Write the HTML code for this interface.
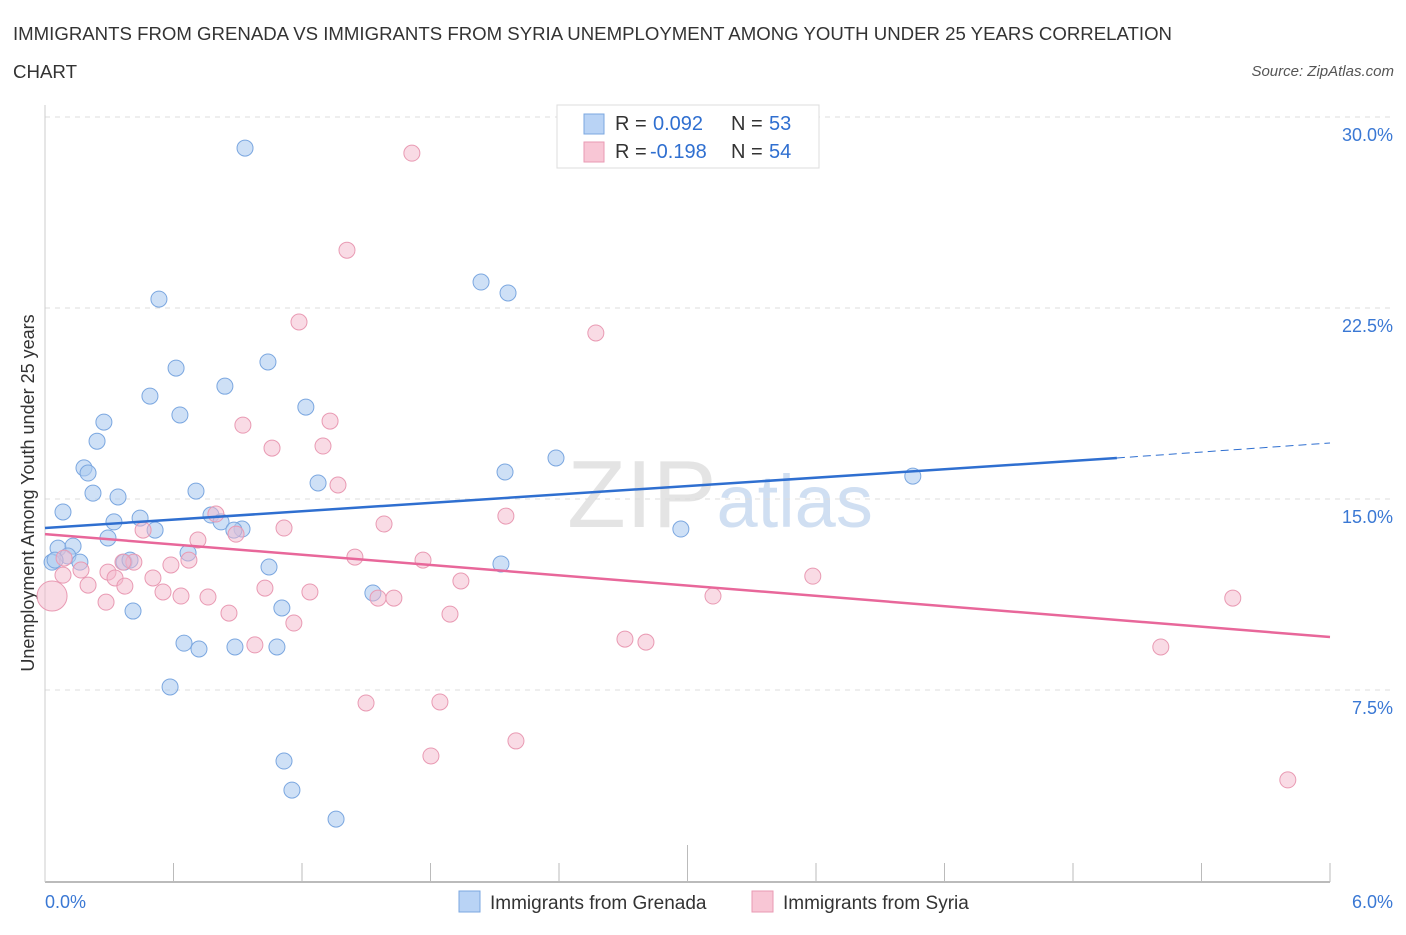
<!DOCTYPE html>
<html><head><meta charset="utf-8">
<style>
body{margin:0;background:#fff;width:1406px;height:930px;overflow:hidden;font-family:"Liberation Sans",sans-serif;}
svg text{font-family:"Liberation Sans",sans-serif;}
</style></head>
<body>
<svg id="chart" width="1406" height="930" xmlns="http://www.w3.org/2000/svg">
<text x="13" y="40" font-size="18" fill="#333" textLength="1159" lengthAdjust="spacingAndGlyphs">IMMIGRANTS FROM GRENADA VS IMMIGRANTS FROM SYRIA UNEMPLOYMENT AMONG YOUTH UNDER 25 YEARS CORRELATION</text>
<text x="13" y="78" font-size="18" fill="#333" textLength="64" lengthAdjust="spacingAndGlyphs">CHART</text>
<text x="1394" y="76" font-size="15" fill="#555" font-style="italic" text-anchor="end">Source: ZipAtlas.com</text>
<text transform="translate(34,493) rotate(-90)" font-size="18" fill="#333" text-anchor="middle">Unemployment Among Youth under 25 years</text>
<text x="720" y="527" font-size="96" fill="#e4e4e4" text-anchor="middle" font-family="Liberation Serif">ZIP<tspan fill="#d0dff2" font-family="Liberation Sans" font-size="74">atlas</tspan></text>
<g id="grid"></g><g id="marks"></g>
<g>
<rect x="557" y="105" width="262" height="63" fill="#fff" stroke="#ddd"/>
<rect x="584" y="114" width="20" height="20" fill="#b9d3f5" stroke="#7ba7e0"/>
<text x="615" y="130" font-size="20" fill="#333">R =</text>
<text x="653" y="130" font-size="20" fill="#2f6fd0">0.092</text>
<text x="731" y="130" font-size="20" fill="#333">N =</text>
<text x="769" y="130" font-size="20" fill="#2f6fd0">53</text>
<rect x="584" y="142" width="20" height="20" fill="#f8c6d5" stroke="#e99ab3"/>
<text x="615" y="158" font-size="20" fill="#333">R =</text>
<text x="650" y="158" font-size="20" fill="#2f6fd0">-0.198</text>
<text x="731" y="158" font-size="20" fill="#333">N =</text>
<text x="769" y="158" font-size="20" fill="#2f6fd0">54</text>
</g>
<g>
<rect x="459" y="891" width="21" height="21" fill="#b9d3f5" stroke="#7ba7e0"/>
<text x="490" y="909" font-size="19" fill="#333">Immigrants from Grenada</text>
<rect x="752" y="891" width="21" height="21" fill="#f8c6d5" stroke="#e99ab3"/>
<text x="783" y="909" font-size="19" fill="#333">Immigrants from Syria</text>
</g>
</svg>
<script>
const yTicks=[7.5,15,22.5,30];
const yTickLabels=["7.5%","15.0%","22.5%","30.0%"];
const xTickCount=10;
const blueX=[0.934,0.532,2.036,2.162,1.041,0.612,0.840,0.490,0.630,1.218,0.275,0.243,0.182,0.201,0.224,0.341,0.705,2.148,2.386,4.052,1.275,0.084,0.322,0.444,0.775,0.822,0.514,0.920,0.882,2.969,0.294,0.061,0.131,0.107,0.033,0.163,0.369,0.397,0.668,1.046,2.129,1.531,1.106,0.411,0.649,0.719,0.887,1.083,0.584,1.116,1.153,1.359,0.047];
const blueY=[28.78,22.85,23.52,23.09,20.38,20.14,19.43,19.04,18.30,18.61,18.02,17.27,16.22,16.02,15.23,15.08,15.31,16.06,16.61,15.90,15.63,14.49,14.10,14.25,14.37,14.10,13.78,13.82,13.78,13.82,13.47,13.07,13.15,12.76,12.52,12.52,12.52,12.60,12.88,12.33,12.45,11.31,10.72,10.60,9.34,9.11,9.19,9.19,7.62,4.71,3.57,2.43,12.60];
const pinkX=[1.713,1.410,1.186,2.572,1.331,0.924,1.060,1.298,1.368,0.798,2.152,0.458,1.116,1.583,0.892,0.714,0.089,0.415,0.672,1.447,1.765,0.168,0.294,0.084,0.327,0.504,0.588,3.585,1.942,0.201,0.373,0.551,0.635,0.761,1.027,1.237,1.555,1.629,3.119,5.546,0.285,0.859,1.891,1.162,2.708,2.806,0.980,5.210,1.499,1.844,2.199,1.802,5.803,0.364,0.033];
const pinkY=[28.58,24.77,21.95,21.52,18.06,17.90,17.00,17.08,15.55,14.41,14.33,13.78,13.86,14.02,13.62,13.39,12.68,12.52,12.60,12.72,12.60,12.21,12.13,12.01,11.90,11.90,12.41,11.97,11.78,11.62,11.58,11.35,11.19,11.15,11.50,11.35,11.11,11.11,11.19,11.11,10.95,10.52,10.48,10.13,9.50,9.38,9.27,9.19,6.99,7.03,5.50,4.91,3.97,12.52,11.19];
const pinkR=[8,8,8,8,8,8,8,8,8,8,8,8,8,8,8,8,8,8,8,8,8,8,8,8,8,8,8,8,8,8,8,8,8,8,8,8,8,8,8,8,8,8,8,8,8,8,8,8,8,8,8,8,8,8,15];
const blueTrend=[[0,13.86],[5.005,16.61],[6,17.2]];
const pinkTrend=[[0,13.62],[6,9.58]];

const X0=45,X1=1330,Y0=881,Y30=117;
const sx=v=>X0+(X1-X0)*v/6;
const sy=v=>Y0-(Y0-Y30)*v/30;
const NS="http://www.w3.org/2000/svg";
function mk(parent,tag,attrs){const e=document.createElementNS(NS,tag);for(const k in attrs)e.setAttribute(k,attrs[k]);parent.appendChild(e);return e;}
const grid=document.getElementById('grid'),marks=document.getElementById('marks');
yTicks.forEach((t,i)=>{
  const l=mk(grid,'line',{x1:X0,x2:X1+60,y1:sy(t),y2:sy(t),stroke:'#ddd','stroke-dasharray':'5,5'});
  
  
  const tx=mk(grid,'text',{x:1393,y:sy(t)+24,'font-size':18,fill:'#3a78d4','text-anchor':'end'});
  tx.textContent=yTickLabels[i];
  
  
});
const ax=mk(grid,'line',{x1:X0,x2:X1,y1:Y0+1,y2:Y0+1,stroke:'#bbb','stroke-width':2});


const ay=mk(grid,'line',{x1:X0,x2:X0,y1:105,y2:Y0+1,stroke:'#ccc'});


for(let i=1;i<=xTickCount;i++){
  const x=sx(6*i/xTickCount);
  const tk=mk(grid,'line',{x1:x,x2:x,y1:Y0+1-(i===5?37:19),y2:Y0+1,stroke:'#bbb'});
  
  
}
const xl0=mk(grid,'text',{x:45,y:908,'font-size':18,fill:'#3a78d4'});xl0.textContent='0.0%';


const xl1=mk(grid,'text',{x:1393,y:908,'font-size':18,fill:'#3a78d4','text-anchor':'end'});xl1.textContent='6.0%';



blueX.forEach((v,i)=>{
  const c=mk(marks,'circle',{cx:sx(v),cy:sy(blueY[i]),r:8,fill:'rgba(174,203,240,0.6)',stroke:'#7ba7e0','stroke-width':1});
  
  
});
pinkX.forEach((v,i)=>{
  const c=mk(marks,'circle',{cx:sx(v),cy:sy(pinkY[i]),r:pinkR[i],fill:'rgba(244,184,203,0.5)',stroke:'#e99ab3','stroke-width':1});
  
  
});
const bl=mk(marks,'line',{x1:sx(blueTrend[0][0]),y1:sy(blueTrend[0][1]),x2:sx(blueTrend[1][0]),y2:sy(blueTrend[1][1]),stroke:'#2f6fd0','stroke-width':2.5});


const bd=mk(marks,'line',{x1:sx(blueTrend[1][0]),y1:sy(blueTrend[1][1]),x2:sx(blueTrend[2][0]),y2:sy(blueTrend[2][1]),stroke:'#2f6fd0','stroke-width':1,'stroke-dasharray':'8,5'});


const pl=mk(marks,'line',{x1:sx(pinkTrend[0][0]),y1:sy(pinkTrend[0][1]),x2:sx(pinkTrend[1][0]),y2:sy(pinkTrend[1][1]),stroke:'#e8679a','stroke-width':2.5});


</script>
</body></html>
